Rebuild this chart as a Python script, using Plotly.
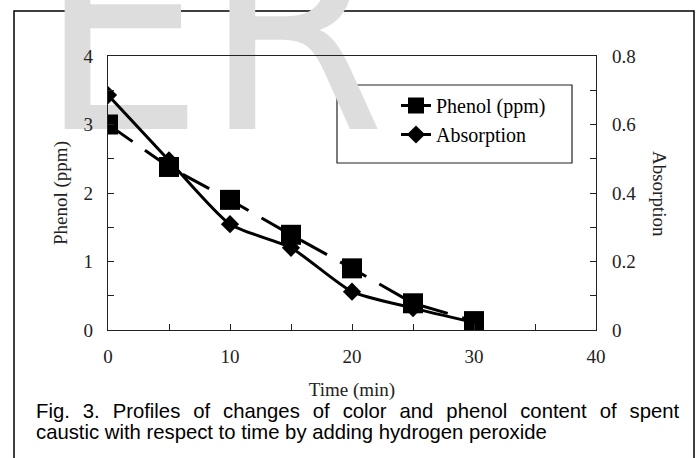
import plotly.graph_objects as go

# ---- data ----
time_min = [0, 5, 10, 15, 20, 25, 30]
phenol_ppm = [3.0, 2.38, 1.9, 1.39, 0.9, 0.39, 0.13]
absorption = [0.686, 0.495, 0.309, 0.24, 0.112, 0.064, 0.022]

x_tickvals = [0, 5, 10, 15, 20, 25, 30, 35, 40]
x_ticktext = ["0", "", "10", "", "20", "", "30", "", "40"]
y1_tickvals = [0, 0.5, 1, 1.5, 2, 2.5, 3, 3.5, 4]
y1_ticktext = ["0", "", "1", "", "2", "", "3", "", "4"]
y2_tickvals = [0, 0.1, 0.2, 0.3, 0.4, 0.5, 0.6, 0.7, 0.8]
y2_ticktext = ["0", "", "0.2", "", "0.4", "", "0.6", "", "0.8"]

caption_line1 = "Fig. 3. Profiles of changes of color and phenol content of spent"
caption_line2 = "caustic with respect to time by adding hydrogen peroxide"

# ---- layout geometry (pixels in a 700x458 page) ----
W, H = 700, 458
PL, PR, PT, PB = 108, 596, 56, 330


def px(x):
    return (x - PL) / (PR - PL)


def py(y):
    return (PB - y) / (PB - PT)


SERIF = "Liberation Serif, Times New Roman, serif"
SANS = "Liberation Sans, Arial, sans-serif"
NARROW = "Liberation Sans Narrow, Arial Narrow, DejaVu Sans Condensed, Liberation Sans"
INK = "#222222"

fig = go.Figure()

fig.add_trace(go.Scatter(
    x=time_min, y=phenol_ppm, name="Phenol (ppm)", legendgroup="a",
    mode="lines+markers",
    line=dict(color="black", width=3, dash="30px,15px"),
    marker=dict(symbol="square", size=20, color="black"),
    yaxis="y",
))
fig.add_trace(go.Scatter(
    x=time_min, y=absorption, name="Absorption", legendgroup="b",
    mode="lines+markers",
    line=dict(color="black", width=3, shape="spline", smoothing=0.6),
    marker=dict(symbol="diamond", size=14, color="black"),
    yaxis="y2",
))

axis_common = dict(
    showgrid=False, zeroline=False, showline=True, linecolor=INK,
    linewidth=1.2, ticks="inside", ticklen=6, tickwidth=1.2, tickcolor=INK,
    tickfont=dict(family=SERIF, size=19, color=INK),
    tickmode="array",
)

shapes = [
    # outer frame of the figure panel
    dict(type="rect", xref="paper", yref="paper",
         x0=px(14), x1=px(694), y0=py(475), y1=py(11),
         line=dict(color="black", width=1.5), fillcolor="rgba(0,0,0,0)",
         layer="below"),
    # legend box
    dict(type="rect", xref="paper", yref="paper",
         x0=px(337), x1=px(572), y0=py(163), y1=py(85),
         line=dict(color=INK, width=1.2), fillcolor="white",
         layer="below"),
    # faint watermark lettering
    dict(type="rect", xref="paper", yref="paper",
         x0=px(36), x1=px(440), y0=py(176), y1=py(-110),
         line=dict(width=0), fillcolor="rgba(0,0,0,0)", layer="below",
         label=dict(text="ER", textposition="bottom left", padding=0,
                    font=dict(family=NARROW, size=290, color="#dddddd"))),
]

gap = " \u00a0\u200a"
annotations = [
    dict(text="Absorption", xref="paper", yref="paper", x=px(659), y=py(194),
         xanchor="center", yanchor="middle", textangle=90, showarrow=False,
         font=dict(family=SERIF, size=19, color=INK)),
    dict(text=caption_line1.replace(" ", gap), xref="paper", yref="paper",
         x=px(34), y=py(411), xanchor="left", yanchor="middle", showarrow=False,
         font=dict(family=SANS, size=20.3, color="black")),
    dict(text=caption_line2, xref="paper", yref="paper",
         x=px(34), y=py(432), xanchor="left", yanchor="middle", showarrow=False,
         font=dict(family=SANS, size=20.3, color="black")),
]

fig.update_layout(
    width=W, height=H,
    margin=dict(l=PL, r=W - PR, t=PT, b=H - PB, pad=0),
    paper_bgcolor="white", plot_bgcolor="rgba(0,0,0,0)",
    xaxis=dict(axis_common, range=[0, 40], tickvals=x_tickvals, ticktext=x_ticktext,
               mirror=True, ticklabelstandoff=9,
               title=dict(text="Time (min)", standoff=16,
                          font=dict(family=SERIF, size=19, color=INK))),
    yaxis=dict(axis_common, range=[0, 4], tickvals=y1_tickvals, ticktext=y1_ticktext,
               ticklabelstandoff=10,
               title=dict(text="Phenol (ppm)", standoff=10,
                          font=dict(family=SERIF, size=19, color=INK))),
    yaxis2=dict(axis_common, range=[0, 0.8], tickvals=y2_tickvals, ticktext=y2_ticktext,
                overlaying="y", side="right", ticklabelstandoff=11),
    showlegend=True,
    legend=dict(x=px(396), y=py(86), xanchor="left", yanchor="top",
                bgcolor="rgba(0,0,0,0)", borderwidth=0,
                font=dict(family=SERIF, size=20, color="black"),
                tracegroupgap=17, traceorder="normal"),
    shapes=shapes,
    annotations=annotations,
)

fig.write_html("out.html")
